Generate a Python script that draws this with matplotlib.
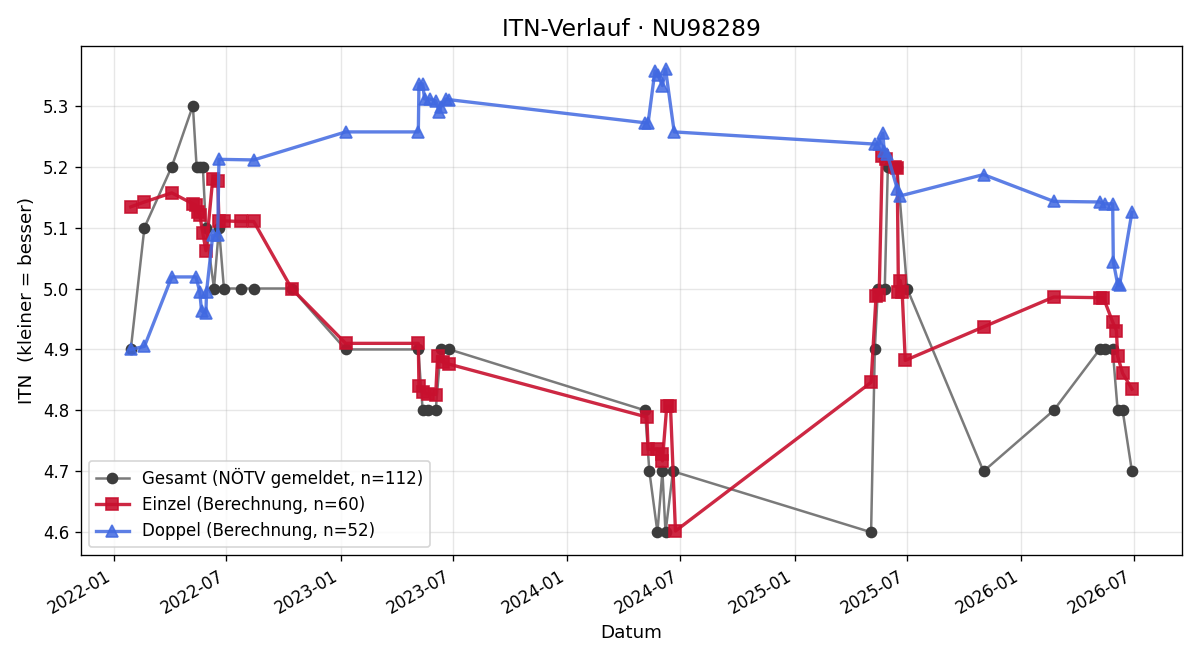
import matplotlib
matplotlib.use("Agg")
import matplotlib.pyplot as plt
import matplotlib.dates as mdates
import pandas as pd


gesamt_dates = [
    "2022-01-28", "2022-02-19", "2022-04-04", "2022-05-08", "2022-05-14",
    "2022-05-19", "2022-05-24", "2022-05-29", "2022-06-11", "2022-06-19",
    "2022-06-27", "2022-07-24", "2022-08-14", "2022-10-14", "2023-01-09",
    "2023-05-06", "2023-05-13", "2023-05-21", "2023-06-03", "2023-06-11",
    "2023-06-25", "2024-05-05", "2024-05-12", "2024-05-25", "2024-06-02",
    "2024-06-07", "2024-06-19", "2025-05-04", "2025-05-10", "2025-05-15",
    "2025-05-26", "2025-05-31", "2025-06-15", "2025-07-01", "2025-11-01",
    "2026-02-22", "2026-05-07", "2026-05-15", "2026-05-28", "2026-06-05",
    "2026-06-13", "2026-06-28",
]
gesamt_vals = [
    4.9, 5.1, 5.2, 5.3, 5.2, 5.2, 5.2, 5.1, 5.0, 5.1,
    5.0, 5.0, 5.0, 5.0, 4.9, 4.9, 4.8, 4.8, 4.8, 4.9,
    4.9, 4.8, 4.7, 4.6, 4.7, 4.6, 4.7, 4.6, 4.9, 5.0,
    5.0, 5.2, 5.2, 5.0, 4.7, 4.8, 4.9, 4.9, 4.9, 4.8,
    4.8, 4.7,
]

einzel_dates = [
    "2022-01-28", "2022-02-19", "2022-04-04", "2022-05-08", "2022-05-13",
    "2022-05-16", "2022-05-19", "2022-05-24", "2022-05-29", "2022-06-09",
    "2022-06-17", "2022-06-19", "2022-06-27", "2022-07-24", "2022-08-14",
    "2022-10-14", "2023-01-09", "2023-05-06", "2023-05-07", "2023-05-13",
    "2023-05-21", "2023-06-03", "2023-06-06", "2023-06-14", "2023-06-24",
    "2024-05-08", "2024-05-10", "2024-05-25", "2024-06-01", "2024-06-02",
    "2024-06-09", "2024-06-15", "2024-06-23", "2025-05-04", "2025-05-12",
    "2025-05-17", "2025-05-22", "2025-05-28", "2025-06-12", "2025-06-15",
    "2025-06-17", "2025-06-20", "2025-06-23", "2025-06-28", "2025-11-01",
    "2026-02-22", "2026-05-07", "2026-05-13", "2026-05-28", "2026-06-03",
    "2026-06-05", "2026-06-13", "2026-06-28",
]
einzel_vals = [
    5.134, 5.142, 5.157, 5.139, 5.137, 5.126, 5.121, 5.091, 5.062, 5.180,
    5.177, 5.111, 5.111, 5.110, 5.110, 5.000, 4.910, 4.910, 4.840, 4.830,
    4.827, 4.826, 4.889, 4.879, 4.876, 4.789, 4.736, 4.736, 4.728, 4.717,
    4.807, 4.807, 4.602, 4.846, 4.988, 4.990, 5.218, 5.213, 5.200, 5.198,
    4.995, 5.013, 4.995, 4.882, 4.937, 4.986, 4.985, 4.985, 4.945, 4.931,
    4.889, 4.861, 4.835,
]

doppel_dates = [
    "2022-01-28", "2022-02-19", "2022-04-04", "2022-05-13", "2022-05-19",
    "2022-05-22", "2022-05-29", "2022-05-30", "2022-06-09", "2022-06-17",
    "2022-06-19", "2022-08-14", "2023-01-09", "2023-05-06", "2023-05-07",
    "2023-05-13", "2023-05-16", "2023-05-24", "2023-06-03", "2023-06-09",
    "2023-06-11", "2023-06-19", "2023-06-24", "2024-05-05", "2024-05-10",
    "2024-05-21", "2024-05-26", "2024-06-02", "2024-06-07", "2024-06-21",
    "2025-05-10", "2025-05-17", "2025-05-23", "2025-05-25", "2025-05-30",
    "2025-06-15", "2025-06-20", "2025-11-01", "2026-02-22", "2026-05-07",
    "2026-05-15", "2026-05-28", "2026-05-29", "2026-06-05", "2026-06-08",
    "2026-06-28",
]
doppel_vals = [
    4.900, 4.905, 5.019, 5.019, 4.995, 4.963, 4.960, 4.995, 5.087, 5.088,
    5.212, 5.211, 5.257, 5.257, 5.336, 5.336, 5.311, 5.311, 5.308, 5.290,
    5.298, 5.311, 5.310, 5.272, 5.272, 5.357, 5.350, 5.333, 5.360, 5.257,
    5.237, 5.237, 5.255, 5.226, 5.221, 5.164, 5.152, 5.187, 5.143, 5.142,
    5.139, 5.139, 5.044, 5.007, 5.005, 5.125,
]

fig, ax = plt.subplots(figsize=(10, 5.5), dpi=120)

ax.plot(pd.to_datetime(gesamt_dates), gesamt_vals, marker="o", markersize=6,
        color="#7a7a7a", mfc="#3c3c3c", mec="#3c3c3c", linewidth=1.5,
        label="Gesamt (NÖTV gemeldet, n=112)")
ax.plot(pd.to_datetime(einzel_dates), einzel_vals, marker="s", markersize=7,
        color="#c8102e", alpha=0.9, linewidth=2,
        label="Einzel (Berechnung, n=60)")
ax.plot(pd.to_datetime(doppel_dates), doppel_vals, marker="^", markersize=7,
        color="#4169e1", alpha=0.85, linewidth=2,
        label="Doppel (Berechnung, n=52)")

ax.xaxis.set_major_locator(mdates.MonthLocator(bymonth=[1, 7]))
ax.xaxis.set_major_formatter(mdates.DateFormatter("%Y-%m"))
fig.autofmt_xdate()

ax.set_title("ITN-Verlauf · NU98289", fontsize=14)
ax.set_xlabel("Datum", fontsize=11)
ax.set_ylabel("ITN  (kleiner = besser)", fontsize=11)
ax.grid(True, alpha=0.3)
ax.legend(loc="lower left", fontsize=10)

fig.tight_layout()
fig.savefig("out.png")
